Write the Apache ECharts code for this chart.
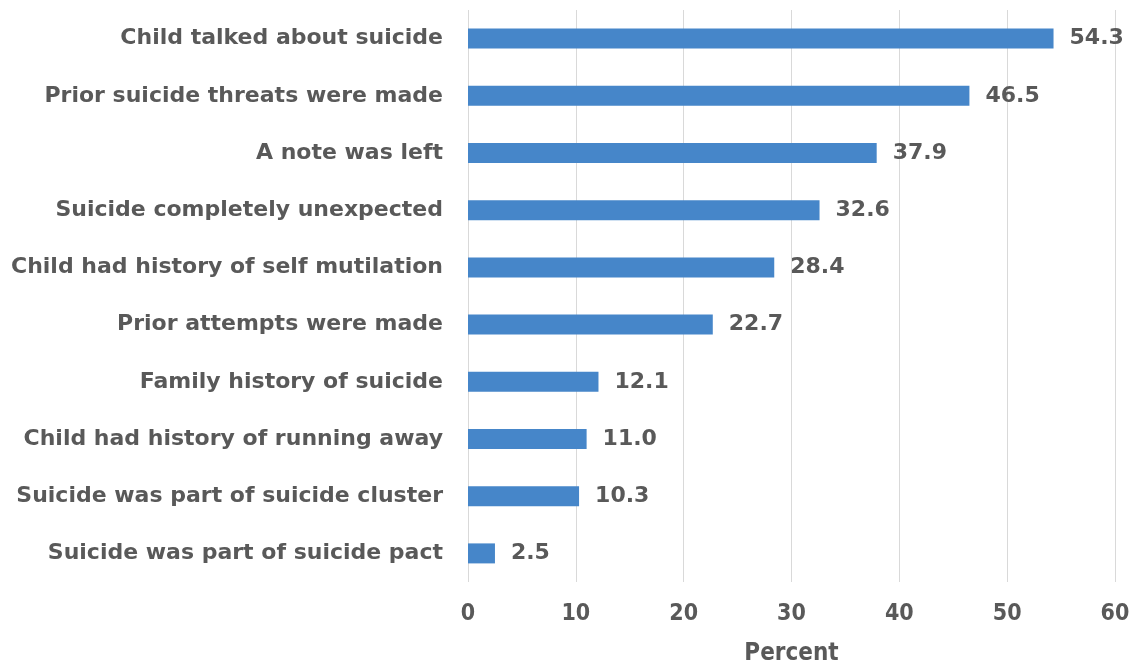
<!DOCTYPE html>
<html>
<head>
<meta charset="utf-8">
<script src="https://cdn.jsdelivr.net/npm/echarts@6/dist/echarts.min.js"></script>
<style>html,body{margin:0;padding:0;background:#fff;}#main{width:1133px;height:667px;}</style>
</head>
<body>
<div id="main"></div>
<script>
const categories = [
  "Child talked about suicide",
  "Prior suicide threats were made",
  "A note was left",
  "Suicide completely unexpected",
  "Child had history of self mutilation",
  "Prior attempts were made",
  "Family history of suicide",
  "Child had history of running away",
  "Suicide was part of suicide cluster",
  "Suicide was part of suicide pact"
];
const values = [54.3, 46.5, 37.9, 32.6, 28.4, 22.7, 12.1, 11.0, 10.3, 2.5];
const xTicks = [0, 10, 20, 30, 40, 50, 60];

const FONT = "DejaVu Sans";
const FONT_C = "DejaVu Sans Condensed";
const TXT = "#595959";
const chart = echarts.init(document.getElementById('main'), null, {renderer: 'canvas'});
chart.setOption({
  animation: false,
  grid: {left: 468, right: 18, top: 10, bottom: 85, containLabel: false, outerBoundsMode: 'none'},
  xAxis: {
    type: 'value', min: xTicks[0], max: xTicks[xTicks.length - 1], interval: 10,
    name: 'Percent', nameLocation: 'middle', nameGap: 60,
    nameTextStyle: {color: TXT, fontFamily: FONT_C, fontWeight: 'bold', fontSize: 24},
    axisLine: {show: false}, axisTick: {show: false},
    axisLabel: {color: TXT, fontFamily: FONT_C, fontWeight: 'bold', fontSize: 23, margin: 21},
    splitLine: {show: true, lineStyle: {color: '#d9d9d9', width: 1}}
  },
  yAxis: {
    type: 'category', data: categories, inverse: true,
    axisLine: {show: false}, axisTick: {show: false},
    axisLabel: {color: TXT, fontFamily: FONT, fontWeight: 'bold', fontSize: 22, margin: 25}
  },
  series: [{
    type: 'bar', data: values, barWidth: 20,
    itemStyle: {color: '#4686C9'},
    label: {show: true, position: 'right', distance: 16, color: TXT,
      fontFamily: FONT, fontWeight: 'bold', fontSize: 22,
      formatter: p => p.value.toFixed(1)}
  }]
});
</script>
</body>
</html>
